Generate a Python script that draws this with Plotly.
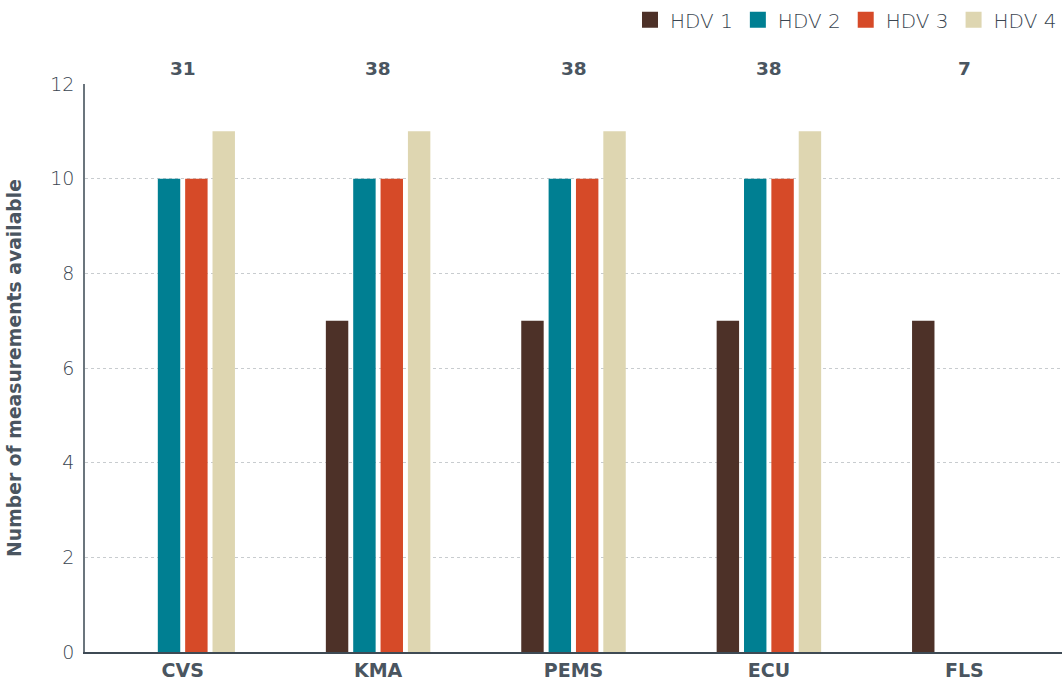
import plotly.graph_objects as go

categories = ["CVS", "KMA", "PEMS", "ECU", "FLS"]
series_names = ["HDV 1", "HDV 2", "HDV 3", "HDV 4"]
hdv1 = [None, 7, 7, 7, 7]
hdv2 = [10, 10, 10, 10, None]
hdv3 = [10, 10, 10, 10, None]
hdv4 = [11, 11, 11, 11, None]
totals = [31, 38, 38, 38, 7]
colors = ["#4d3128", "#007f92", "#d64a28", "#ded6b1"]

text_color = "#4a5560"
light_text_color = "#3a4550"
font_family = "'DejaVu Sans', 'Open Sans', sans-serif"

fig = go.Figure()
for name, vals, col in zip(series_names, [hdv1, hdv2, hdv3, hdv4], colors):
    fig.add_trace(go.Bar(x=categories, y=vals, name=name, marker_color=col,
                         marker_line_width=0, showlegend=False))
    # legend-only entry with a larger square swatch
    fig.add_trace(go.Scatter(x=[None], y=[None], mode="markers", name=name,
                             marker=dict(symbol="square", size=16, color=col),
                             showlegend=True, hoverinfo="skip"))

for cat, tot in zip(categories, totals):
    fig.add_annotation(x=cat, y=1, yref="paper", yshift=28, text=f"<b>{tot}</b>",
                       showarrow=False, font=dict(size=18.5, color=text_color, family=font_family))

fig.update_layout(
    width=1062, height=686,
    margin=dict(l=85, r=0, t=84, b=34, autoexpand=False),
    paper_bgcolor="white", plot_bgcolor="white",
    barmode="group", bargap=0.44, bargroupgap=0.18,
    font=dict(family=font_family, color=light_text_color, size=18, weight=300),
    legend=dict(orientation="h", x=1.0, xanchor="right", y=1.113, yanchor="middle",
                yref="paper", font=dict(size=20, color=light_text_color, family=font_family, weight=300),
                traceorder="normal", itemwidth=30, itemclick=False, itemdoubleclick=False,
                bgcolor="rgba(0,0,0,0)"),
    showlegend=True,
    xaxis=dict(showline=True, linecolor="#3e4a54", linewidth=2, ticks="",
               automargin=False,
               tickfont=dict(size=19, color=text_color, family=font_family, weight="bold")),
    yaxis=dict(range=[0, 12], dtick=2, showline=True, linecolor="#6b757d", linewidth=1.5,
               showgrid=True, gridcolor="#c8cccf", griddash="dot", gridwidth=1,
               zeroline=False, ticks="", ticklabelstandoff=5, automargin=False,
               tickfont=dict(size=19, color=light_text_color, family=font_family, weight=300),
               title=dict(text="Number of measurements available",
                          font=dict(size=18.8, color=text_color, family=font_family, weight="bold"),
                          standoff=24)),
)

fig.write_html("out.html", post_script="document.body.style.margin='0';",
               config={"displayModeBar": False})
